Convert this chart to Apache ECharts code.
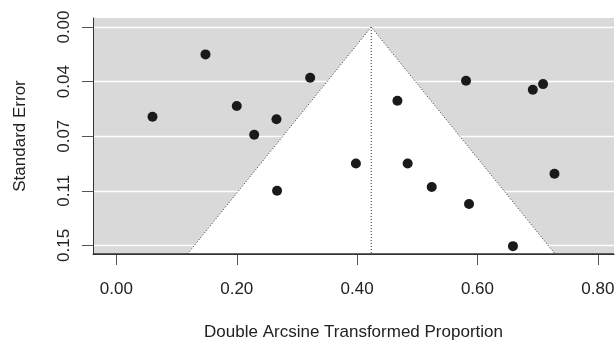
<!DOCTYPE html>
<html>
<head>
<meta charset="utf-8">
<title>Funnel plot</title>
<script src="https://cdn.jsdelivr.net/npm/echarts@6/dist/echarts.min.js"></script>
<style>
  html, body { margin: 0; padding: 0; background: #fff; }
  #funnel { width: 616px; height: 343px; }
</style>
</head>
<body>
<div id="funnel"></div>
<script>
// study estimates (double arcsine) and their standard errors
var studyEffect = [0.060, 0.148, 0.200, 0.229, 0.266, 0.267, 0.322, 0.398, 0.467,
                   0.484, 0.524, 0.581, 0.586, 0.659, 0.692, 0.709, 0.728];
var studySE     = [0.0616, 0.0188, 0.0543, 0.0740, 0.0634, 0.1124, 0.0348, 0.0937, 0.0506,
                   0.0937, 0.1099, 0.0369, 0.1216, 0.1505, 0.0431, 0.0392, 0.1008];

// pooled estimate, funnel drawn at +/- 1.96 SE
var pooled = 0.4235;
var zCrit = 1.96;

var xTicks = [0, 0.2, 0.4, 0.6, 0.8];
var yTicks = [0, 0.0375, 0.075, 0.1125, 0.15];
var yTickLabels = ['0.00', '0.04', '0.07', '0.11', '0.15'];

var xMin = -0.0389, xMax = 0.8269;
var yMin = -0.0062, yMax = 0.1559;

var points = studyEffect.map(function (x, i) { return [x, studySE[i]]; });
var funnelEdge = [
  [pooled - zCrit * yMax, yMax],
  [pooled, 0],
  [pooled + zCrit * yMax, yMax]
];
var centreLine = [[pooled, 0], [pooled, yMax]];
// bottom frame of the plot box (R bty="l")
var bottomFrame = [[xMin, yMax], [xMax, yMax]];

var textColor = '#222';
var font = 'Liberation Sans, Arial, Helvetica, sans-serif';

var myChart = echarts.init(document.getElementById('funnel'));
var option = {
  animation: false,
  grid: {
    left: 93, top: 18, right: 2, bottom: 89,
    outerBoundsMode: 'none',
    containLabel: false,
    show: true,
    backgroundColor: '#d9d9d9',
    borderWidth: 0
  },
  xAxis: {
    type: 'value',
    min: xMin, max: xMax,
    name: 'Double Arcsine Transformed Proportion',
    nameLocation: 'middle',
    nameGap: 70,
    nameTextStyle: { color: textColor, fontSize: 17, fontFamily: font },
    axisLine: { show: true, onZero: false, lineStyle: { color: '#333', width: 1 } },
    axisTick: { show: true, length: 11, customValues: xTicks, lineStyle: { color: '#555', width: 1 } },
    axisLabel: {
      customValues: xTicks, margin: 27,
      color: textColor, fontSize: 17, fontFamily: font,
      formatter: function (v) { return v.toFixed(2); }
    },
    splitLine: { show: false }
  },
  yAxis: {
    type: 'value',
    inverse: true,
    min: yMin, max: yMax,
    name: 'Standard Error',
    nameLocation: 'middle',
    nameGap: 64,
    nameTextStyle: { color: textColor, fontSize: 17, fontFamily: font },
    axisLine: { show: true, onZero: false, lineStyle: { color: '#333', width: 1 } },
    axisTick: { show: true, length: 11, customValues: yTicks, lineStyle: { color: '#555', width: 1 } },
    axisLabel: {
      customValues: yTicks, margin: 20, rotate: 90,
      color: textColor, fontSize: 17, fontFamily: font,
      formatter: function (v) {
        var best = 0;
        for (var i = 1; i < yTicks.length; i++) {
          if (Math.abs(yTicks[i] - v) < Math.abs(yTicks[best] - v)) best = i;
        }
        return yTickLabels[best];
      }
    },
    splitLine: { show: true, lineStyle: { color: '#fff', width: 1.3 } }
  },
  series: [
    {
      // white region inside the funnel
      type: 'custom',
      z: 1,
      silent: true,
      clip: true,
      data: [0],
      renderItem: function (params, api) {
        var pts = funnelEdge.map(function (p) { return api.coord(p); });
        return {
          type: 'polygon',
          shape: { points: pts },
          style: { fill: '#fff', stroke: null }
        };
      }
    },
    {
      type: 'line',
      z: 2,
      data: funnelEdge,
      symbol: 'none',
      clip: true,
      lineStyle: { color: '#333', width: 1, type: [1, 2] }
    },
    {
      type: 'line',
      z: 2,
      data: centreLine,
      symbol: 'none',
      clip: true,
      lineStyle: { color: '#333', width: 1, type: [1, 2] }
    },
    {
      type: 'line',
      z: 4,
      silent: true,
      data: bottomFrame,
      symbol: 'none',
      clip: false,
      lineStyle: { color: '#333', width: 1.3 }
    },
    {
      type: 'scatter',
      z: 3,
      data: points,
      symbol: 'circle',
      symbolSize: 10,
      itemStyle: { color: '#1a1a1a', opacity: 1 }
    }
  ]
};
myChart.setOption(option);
</script>
</body>
</html>
